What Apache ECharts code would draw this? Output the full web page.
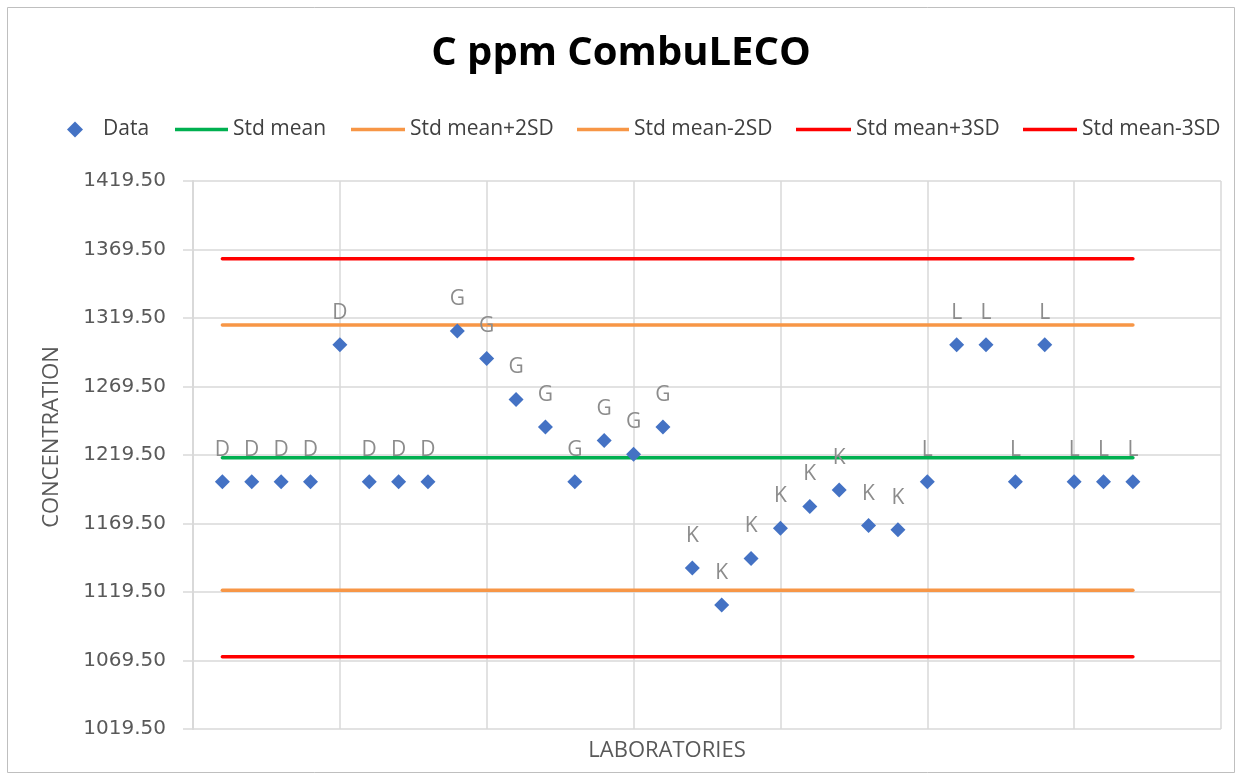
<!DOCTYPE html>
<html><head><meta charset="utf-8">
<script src="https://cdn.jsdelivr.net/npm/echarts@6/dist/echarts.min.js"></script>
<style>html,body{margin:0;padding:0;background:#fff}#c{width:1242px;height:780px}</style>
</head><body><div id="c"></div>
<script>
// Laboratory position index, group letters and measured values
var labIndex = [1,2,3,4,5,6,7,8,9,10,11,12,13,14,15,16,17,18,19,20,21,22,23,24,25,26,27,28,29,30,31,32];
var labLetters = ['D','D','D','D','D','D','D','D','G','G','G','G','G','G','G','G','K','K','K','K','K','K','K','K','L','L','L','L','L','L','L','L'];
var concentration = [1200,1200,1200,1200,1300,1200,1200,1200,1310,1290,1260,1240,1200,1230,1220,1240,1137,1110,1144,1166,1182,1194,1168,1165,1200,1300,1300,1200,1300,1200,1200,1200];
// Reference lines
var lineStart = 1, lineEnd = 32;
var stdMean = 1217.5;
var stdPlus2SD = 1314.3;
var stdMinus2SD = 1120.7;
var stdPlus3SD = 1362.7;
var stdMinus3SD = 1072.3;
var yTicks = {min: 1019.5, max: 1419.5, step: 50};
var seriesNames = ['Data','Std mean','Std mean+2SD','Std mean-2SD','Std mean+3SD','Std mean-3SD'];

var FONT = '"Open Sans", Lato, sans-serif';
var pts = labIndex.map(function(x,i){return {value:[x,concentration[i]], label:{formatter:labLetters[i]}};});
function hline(name, v, color){
  return {name:name, type:'line', symbol:'none', data:[[lineStart,v],[lineEnd,v]],
    lineStyle:{color:color, width:3.5, cap:'round'}, itemStyle:{color:color}, z:2, silent:true};
}
var legTxt = {fontFamily:FONT, fontSize:21, color:'#404040'};
function lineLegend(name, left, w){
  return {top:114, left:left, itemWidth:w, itemHeight:3.5, icon:'rect', itemGap:0,
    textStyle:legTxt, data:[name], selectedMode:false};
}
var chart = echarts.init(document.getElementById('c'), null, {renderer:'canvas'});
chart.setOption({
  animation:false,
  backgroundColor:'#fff',
  graphic:[{type:'rect', shape:{x:7.5,y:7.5,width:1227,height:765}, style:{fill:'none', stroke:'#bfbfbf', lineWidth:1}}],
  title:{text:'C ppm CombuLECO', left:'center', top:29, textStyle:{fontFamily:FONT, fontSize:40, fontWeight:'bold', color:'#000'}},
  legend:[
    {top:114, left:62, itemWidth:16, itemHeight:16, icon:'diamond', selectedMode:false,
      itemStyle:{color:'#4472C4', opacity:1},
      textStyle:Object.assign({}, legTxt, {padding:[0,0,0,15]}), data:[seriesNames[0]]},
    lineLegend(seriesNames[1], 170, 53),
    lineLegend(seriesNames[2], 346, 54),
    lineLegend(seriesNames[3], 572, 52),
    lineLegend(seriesNames[4], 791, 55),
    lineLegend(seriesNames[5], 1018, 54)
  ],
  grid:{left:193, right:21, top:181, bottom:51, containLabel:false},
  xAxis:{type:'value', min:0, max:35, interval:5,
    axisLine:{show:false}, axisTick:{show:false}, axisLabel:{show:false},
    splitLine:{show:true, lineStyle:{color:'#d9d9d9', width:1.5}},
    name:'LABORATORIES', nameLocation:'middle', nameGap:11,
    nameTextStyle:{fontFamily:FONT, fontSize:22, color:'#595959', padding:[0,80,0,0]}},
  yAxis:{type:'value', min:yTicks.min, max:yTicks.max, interval:yTicks.step,
    axisLine:{show:true, lineStyle:{color:'#d9d9d9', width:2}},
    axisTick:{show:true, length:10, lineStyle:{color:'#d9d9d9', width:1.5}},
    axisLabel:{fontFamily:'"DejaVu Sans", sans-serif', fontSize:20, color:'#595959', margin:27, formatter:function(v){return v.toFixed(2);}},
    splitLine:{show:true, lineStyle:{color:'#d9d9d9', width:1.5}},
    name:'CONCENTRATION', nameLocation:'middle', nameGap:130, nameRotate:90,
    nameTextStyle:{fontFamily:FONT, fontSize:22, color:'#595959', padding:[0,0,0,36]}},
  series:[
    {name:seriesNames[0], type:'scatter', symbol:'diamond', symbolSize:15, itemStyle:{color:'#4472C4', opacity:1}, z:5,
      label:{show:true, position:'inside', offset:[0,-32], fontFamily:FONT, fontSize:21, color:'#8c8c8c'},
      data:pts},
    hline(seriesNames[1], stdMean, '#00B050'),
    hline(seriesNames[2], stdPlus2SD, '#F79646'),
    hline(seriesNames[3], stdMinus2SD, '#F79646'),
    hline(seriesNames[4], stdPlus3SD, '#FF0000'),
    hline(seriesNames[5], stdMinus3SD, '#FF0000')
  ]
});
</script></body></html>
